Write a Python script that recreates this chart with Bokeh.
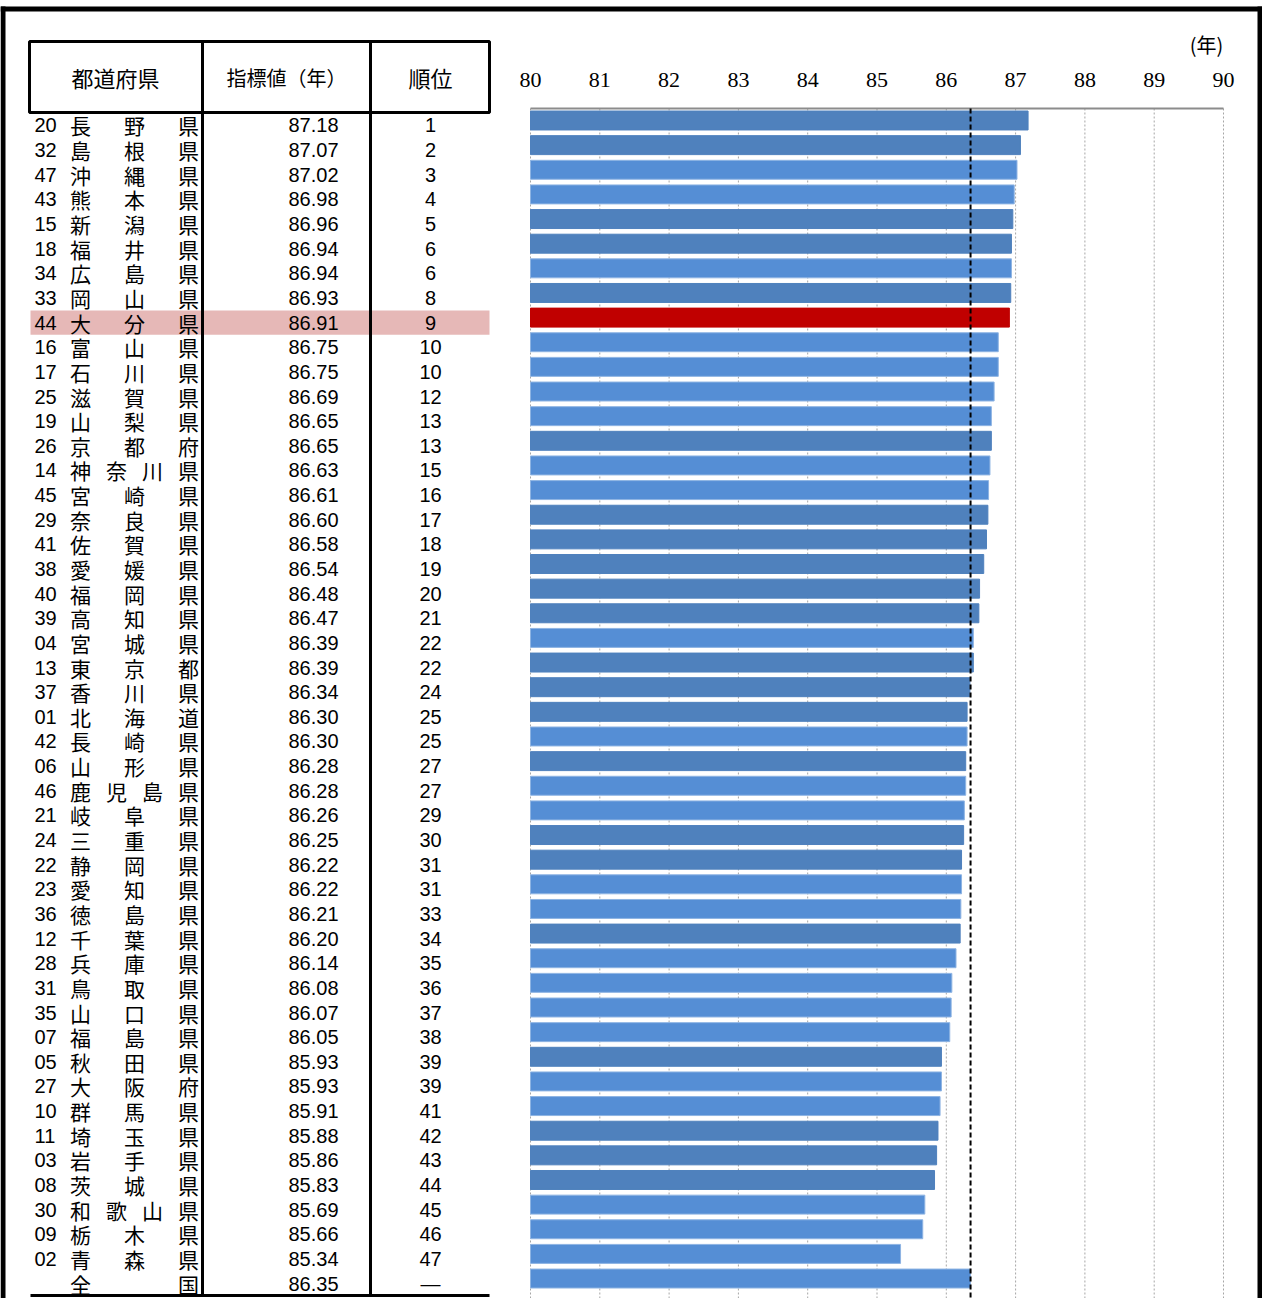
from bokeh.plotting import figure
from bokeh.models import Range1d, FixedTicker, ColumnDataSource
from bokeh.core.properties import value
from bokeh.embed import file_html
from bokeh.resources import INLINE

# ---------------- data ----------------
codes = ["20", "32", "47", "43", "15", "18", "34", "33", "44", "16",
         "17", "25", "19", "26", "14", "45", "29", "41", "38", "40",
         "39", "04", "13", "37", "01", "42", "06", "46", "21", "24",
         "22", "23", "36", "12", "28", "31", "35", "07", "05", "27",
         "10", "11", "03", "08", "30", "09", "02", ""]
names = ["長野県", "島根県", "沖縄県", "熊本県", "新潟県", "福井県", "広島県", "岡山県", "大分県", "富山県",
         "石川県", "滋賀県", "山梨県", "京都府", "神奈川県", "宮崎県", "奈良県", "佐賀県", "愛媛県", "福岡県",
         "高知県", "宮城県", "東京都", "香川県", "北海道", "長崎県", "山形県", "鹿児島県", "岐阜県", "三重県",
         "静岡県", "愛知県", "徳島県", "千葉県", "兵庫県", "鳥取県", "山口県", "福島県", "秋田県", "大阪府",
         "群馬県", "埼玉県", "岩手県", "茨城県", "和歌山県", "栃木県", "青森県", "全国"]
values = [87.18, 87.07, 87.02, 86.98, 86.96, 86.94, 86.94, 86.93, 86.91, 86.75,
          86.75, 86.69, 86.65, 86.65, 86.63, 86.61, 86.60, 86.58, 86.54, 86.48,
          86.47, 86.39, 86.39, 86.34, 86.30, 86.30, 86.28, 86.28, 86.26, 86.25,
          86.22, 86.22, 86.21, 86.20, 86.14, 86.08, 86.07, 86.05, 85.93, 85.93,
          85.91, 85.88, 85.86, 85.83, 85.69, 85.66, 85.34, 86.35]
ranks = ["1", "2", "3", "4", "5", "6", "6", "8", "9", "10",
         "10", "12", "13", "13", "15", "16", "17", "18", "19", "20",
         "21", "22", "22", "24", "25", "25", "27", "27", "29", "30",
         "31", "31", "33", "34", "35", "36", "37", "38", "39", "39",
         "41", "42", "43", "44", "45", "46", "47", "―"]
# shade group of each bar (D = darker, L = lighter, H = highlighted)
shade = ["D", "D", "L", "L", "D", "D", "L", "D", "H", "L",
         "L", "L", "L", "D", "L", "L", "D", "D", "D", "D",
         "D", "L", "D", "D", "D", "L", "D", "L", "L", "D",
         "D", "L", "L", "D", "L", "L", "L", "L", "D", "L",
         "L", "D", "D", "D", "L", "L", "L", "L"]
headers = ["都道府県", "指標値（年）", "順位"]
ticks = [80, 81, 82, 83, 84, 85, 86, 87, 88, 89, 90]
unit_label = "(年)"
national = values[-1]
highlight_index = 9

n = len(values)
rows = list(range(1, n + 1))

JP = "Noto Sans CJK JP"
LAT = "Liberation Sans"
FS = "20px"

W, H = 1262, 1298
TOP, BOTTOM = -3.870, 48.81      # row units at the top / bottom of the frame
AXIS_Y = 0.513                   # row position of the value axis line
TXT = 0.203                      # table text sits slightly below its bar row

p = figure(width=W, height=H,
           x_range=Range1d(80 - 530 / 69.3, 90 + 39 / 69.3),
           y_range=Range1d(BOTTOM, TOP),
           output_backend="svg", toolbar_location=None,
           x_axis_location="above", y_axis_location=None, min_border=0)
p.extra_x_ranges = {"px": Range1d(0, W)}
p.outline_line_color = None
p.grid.visible = False

# ---- value axis (labels only; line drawn separately at the bar area top)
ax = p.xaxis[0]
ax.ticker = FixedTicker(ticks=ticks)
ax.major_tick_line_color = None
ax.minor_tick_line_color = None
ax.axis_line_color = None
ax.major_label_text_font = "Liberation Sans Narrow"
ax.major_label_text_font_size = "22px"
ax.major_label_text_color = "black"
ax.major_label_standoff = -92

# ---- dotted grid lines and axis line
p.segment(x0=ticks, y0=[AXIS_Y] * len(ticks), x1=ticks, y1=[BOTTOM] * len(ticks),
          line_color="#A6A6A6", line_dash="2 2", line_width=1)
p.segment(x0=[ticks[0]], y0=[AXIS_Y], x1=[ticks[-1]], y1=[AXIS_Y],
          line_color="#8C8C8C", line_width=2)

# ---- bars
fill_map = {"D": "#4F81BD", "L": "#558ED5", "H": "#C00000"}
line_map = {"D": "#4F81BD", "L": "#8EB4E3", "H": "#C00000"}
src = ColumnDataSource(dict(y=rows, v=values,
                            fc=[fill_map[s] for s in shade],
                            lc=[line_map[s] for s in shade]))
p.hbar(y="y", left=ticks[0], right="v", height=0.77, fill_color="fc", line_color="lc",
       line_width=1, source=src)

# national average dashed line
p.segment(x0=[national], y0=[AXIS_Y], x1=[national], y1=[BOTTOM],
          line_color="black", line_width=2, line_dash="5 3")

# unit label
p.text(x=[1206], y=[-2.084], text=[unit_label], x_range_name="px", text_font=value(JP),
       text_font_size=value(FS), text_align="center", text_baseline="middle", text_color="black")

# ---------------- table ----------------
tr = [r + TXT for r in rows]

# highlight row
p.quad(left=[30], right=[489], top=[highlight_index + TXT - 0.49],
       bottom=[highlight_index + TXT + 0.49], x_range_name="px",
       fill_color="#E6B8B7", line_color=None)

# header box and separators
p.quad(left=[29], right=[489], top=[-2.206], bottom=[0.675], x_range_name="px",
       fill_color=None, line_color="black", line_width=3)
p.segment(x0=[202, 370], y0=[-2.206, -2.206], x1=[202, 370], y1=[48.69, 48.69],
          x_range_name="px", line_color="black", line_width=3)
p.segment(x0=[30], y0=[48.69], x1=[489], y1=[48.69], x_range_name="px",
          line_color="black", line_width=3)

# header texts
p.text(x=[115, 430], y=[-0.745] * 2, text=[headers[0], headers[2]], x_range_name="px",
       text_font=value(JP), text_font_size=value("22px"), text_align="center",
       text_baseline="middle", text_color="black")
p.text(x=[286], y=[-0.745], text=[headers[1]], x_range_name="px",
       text_font=value(JP), text_font_size=value("20px"), text_align="center",
       text_baseline="middle", text_color="black")

# codes
p.text(x=[34] * n, y=tr, text=codes, x_range_name="px", text_font=value(LAT),
       text_font_size=value(FS), text_align="left", text_baseline="middle", text_color="black")

# names, characters spread across the cell
cx, cy, ct = [], [], []
for i, nm in enumerate(names):
    k = len(nm)
    for j, ch in enumerate(nm):
        cx.append(80 + j * 108 / (k - 1))
        cy.append(i + 1 + TXT)
        ct.append(ch)
p.text(x=cx, y=cy, text=ct, x_range_name="px", text_font=value(JP), text_font_size=value("21px"),
       text_align="center", text_baseline="middle", text_color="black")

# values
p.text(x=[338] * n, y=tr, text=["%.2f" % v for v in values], x_range_name="px",
       text_font=value(LAT), text_font_size=value(FS), text_align="right",
       text_baseline="middle", text_color="black")
# ranks
p.text(x=[430] * n, y=tr, text=ranks, x_range_name="px", text_font=value(LAT),
       text_font_size=value(FS), text_align="center", text_baseline="middle", text_color="black")

# ---------------- outer frame (left, top, right) ----------------
p.quad(left=[0, 0, 1257], right=[5, W, W], top=[-3.627, -3.627, -3.627],
       bottom=[BOTTOM, -3.424, BOTTOM], x_range_name="px",
       fill_color="black", line_color=None)

open("out.html", "w").write(file_html(p, INLINE))
